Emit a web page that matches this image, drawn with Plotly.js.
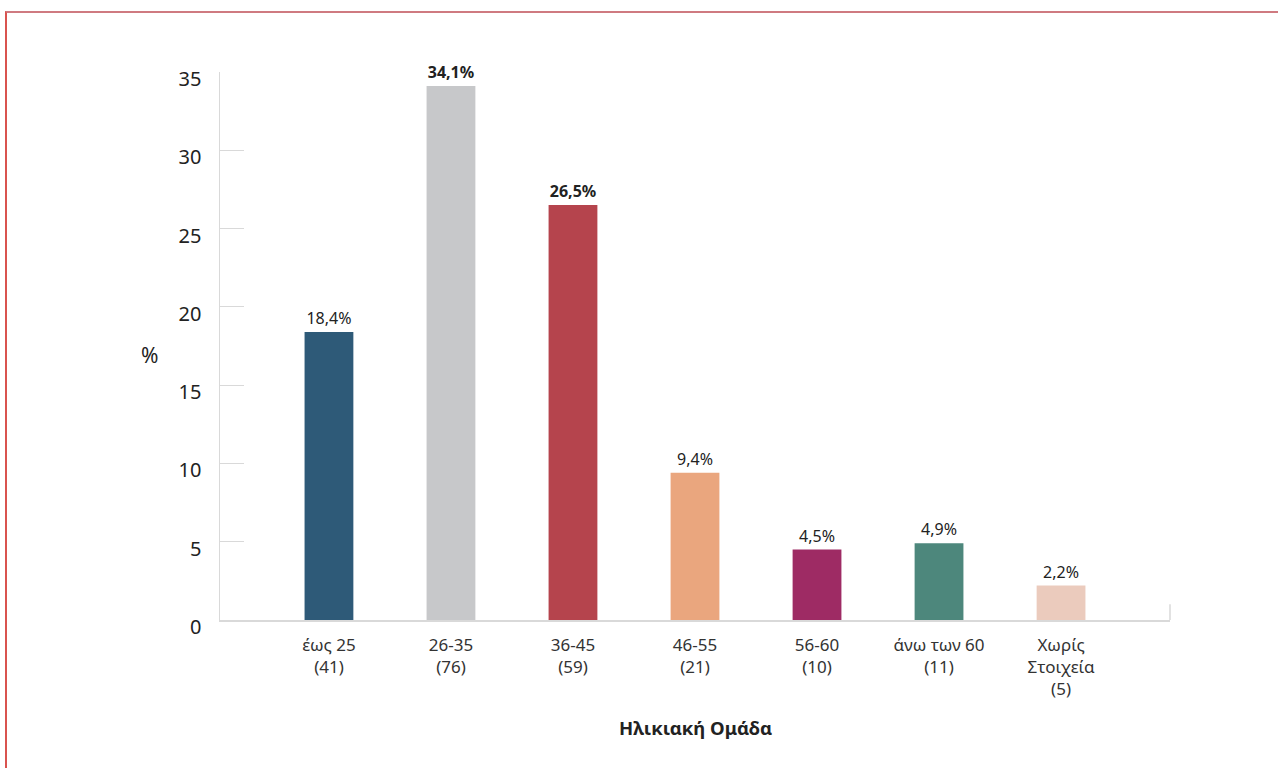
<!DOCTYPE html>
<html>
<head>
<meta charset="utf-8">
<script src="https://cdn.plot.ly/plotly-3.0.1.min.js"></script>
<style>
  html, body { margin: 0; padding: 0; background: #fff; }
  #frame { position: absolute; left: 5px; top: 11px; width: 1273px; height: 757px;
           border-top: 2px solid #cf7a80; border-left: 2px solid #d9534f; box-sizing: border-box; pointer-events: none; z-index: 5; }
  #chart { width: 1278px; height: 768px; }
</style>
</head>
<body>
<div id="frame"></div>
<div id="chart"></div>
<script>
const categories = ["έως 25<br>(41)", "26-35<br>(76)", "36-45<br>(59)", "46-55<br>(21)", "56-60<br>(10)", "άνω των 60<br>(11)", "Χωρίς<br>Στοιχεία<br>(5)"];
const percentValues = [18.4, 34.1, 26.5, 9.4, 4.5, 4.9, 2.2];
const valueLabels = ["18,4%", "<b>34,1%</b>", "<b>26,5%</b>", "9,4%", "4,5%", "4,9%", "2,2%"];
const barColors = ["#2e5a78", "#c7c8ca", "#b5444d", "#eaa67e", "#9e2b64", "#4d877c", "#ebcbbd"];
const yTicks = [0, 5, 10, 15, 20, 25, 30, 35];

const xIdx = categories.map((_, i) => i);

const trace = {
  type: "bar",
  x: xIdx,
  y: percentValues,
  width: 0.4,
  marker: { color: barColors },
  text: valueLabels,
  textposition: "outside",
  cliponaxis: false,
  textfont: { family: "Noto Sans, sans-serif", size: 16, color: "#222" },
  hoverinfo: "none"
};

const layout = {
  width: 1278,
  height: 768,
  margin: { l: 220, r: 108, t: 72, b: 148 },
  paper_bgcolor: "#fff",
  plot_bgcolor: "#fff",
  showlegend: false,
  font: { family: "Noto Sans, sans-serif", color: "#222" },
  xaxis: {
    range: [-0.893, 6.893],
    tickvals: xIdx,
    ticktext: categories,
    showgrid: false,
    zeroline: false,
    showline: true,
    linecolor: "#d9d9d9",
    linewidth: 1.5,
    ticks: "",
    tickfont: { size: 17, color: "#333" },
    ticklabelstandoff: 9
  },
  yaxis: {
    range: [0, 35],
    tickvals: yTicks,
    ticktext: yTicks.map(String),
    showgrid: false,
    zeroline: false,
    showline: true,
    linecolor: "#d9d9d9",
    linewidth: 1.5,
    ticks: "inside",
    ticklen: 24,
    tickcolor: "#d9d9d9",
    tickwidth: 1,
    tickfont: { size: 20, color: "#222" },
    ticklabelstandoff: 13,
    ticklabelshift: 7
  },
  shapes: [
    { type: "line", xref: "paper", yref: "y", x0: 1, x1: 1, y0: 0, y1: 1, line: { color: "#d9d9d9", width: 1.5 } }
  ],
  annotations: [
    { text: "<b>Ηλικιακή Ομάδα</b>", xref: "paper", yref: "paper", x: 0.5, y: -0.197, xanchor: "center", yanchor: "middle", showarrow: false, font: { size: 18.5, color: "#222" } },
    { text: "%", xref: "paper", yref: "paper", x: -0.0737, y: 0.4836, xanchor: "center", yanchor: "middle", showarrow: false, font: { size: 21, color: "#222" } }
  ]
};

Plotly.newPlot("chart", [trace], layout, { displayModeBar: false, staticPlot: true });
</script>
</body>
</html>
